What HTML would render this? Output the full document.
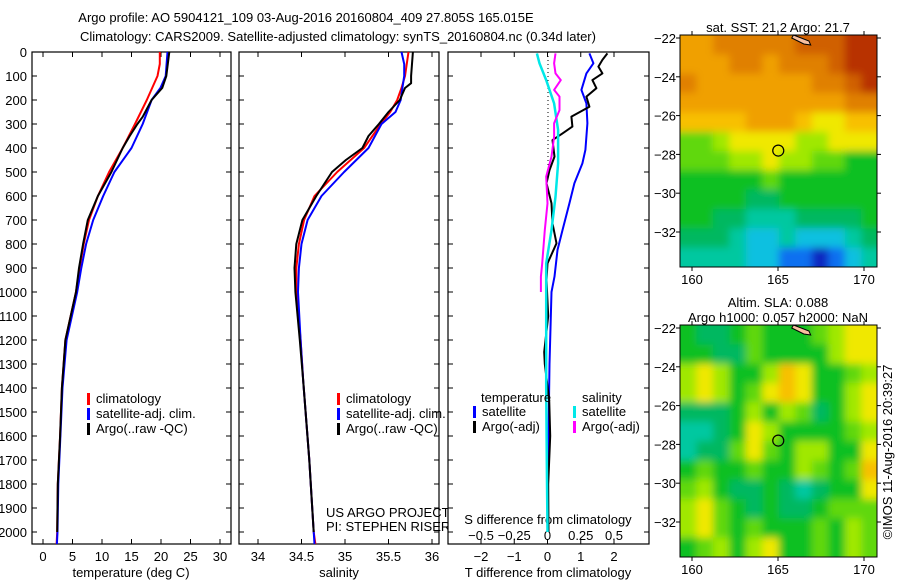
<!DOCTYPE html>
<html><head><meta charset="utf-8"><style>
html,body{margin:0;padding:0;background:#fff;}
svg{display:block;font-family:"Liberation Sans",sans-serif;}
text{font-size:13px;fill:#000;}
</style></head><body>
<svg id="chart" width="900" height="580" viewBox="0 0 900 580" xmlns="http://www.w3.org/2000/svg">
<defs>
<filter id="blur" x="-5%" y="-5%" width="110%" height="110%"><feGaussianBlur stdDeviation="4"/></filter>
<clipPath id="clipTop"><rect x="680" y="35" width="197" height="232"/></clipPath>
<clipPath id="clipBot"><rect x="680" y="325" width="197" height="232"/></clipPath>
</defs>
<text x="306" y="22" text-anchor="middle">Argo profile: AO 5904121_109 03-Aug-2016 20160804_409 27.805S 165.015E</text>
<text x="338" y="41" text-anchor="middle">Climatology: CARS2009. Satellite-adjusted climatology: synTS_20160804.nc (0.34d later)</text>
<g id="g"></g>
</svg>
<script>
// ---- depth profile data ----
const tClimDepth=[0,50,100,200,300,400,500,600,700,800,900,1000,1200,1400,1600,1800,2000,2050];
const tClimVal=[19.8,19.8,19.4,17.6,15.6,13.5,11.2,9.3,7.8,6.9,6.2,5.6,3.8,3.2,2.9,2.5,2.4,2.3];
const tSatDepth=[0,100,150,200,300,400,500,600,700,800,900,1000,1200,1400,1600,1800,2000,2050];
const tSatVal=[21.1,20.8,19.9,18.4,16.9,15.0,12.1,10.2,8.5,7.3,6.5,5.8,4.0,3.3,2.95,2.6,2.45,2.35];
const tArgoDepth=[0,100,150,200,270,300,350,400,500,600,700,800,900,1000,1200,1400,1600,1800,2000];
const tArgoVal=[21.4,20.9,20.2,18.4,16.9,16.0,14.7,13.5,11.6,9.3,7.6,6.8,6.1,5.6,3.8,3.2,2.9,2.5,2.4];
const sClimDepth=[0,100,150,200,250,300,400,500,600,700,800,900,1000,1200,1370,1700,2000,2050];
const sClimVal=[35.73,35.69,35.65,35.6,35.52,35.41,35.22,34.91,34.65,34.53,34.47,34.44,34.44,34.49,34.52,34.59,34.64,34.66];
const sSatDepth=[0,50,100,150,200,250,300,400,500,600,700,800,900,1000,1200,1370,1700,2000,2050];
const sSatVal=[35.65,35.68,35.68,35.66,35.64,35.58,35.42,35.27,34.99,34.73,34.57,34.5,34.47,34.46,34.49,34.52,34.59,34.64,34.65];
const sArgoDepth=[0,100,130,150,200,250,300,350,400,450,500,600,700,800,900,1000,1200,1370,1700,2000];
const sArgoVal=[35.78,35.76,35.76,35.69,35.63,35.5,35.39,35.27,35.2,35.01,34.85,34.67,34.51,34.44,34.42,34.43,34.48,34.52,34.59,34.64];
// ---- difference data ----
const dTSatDepth=[6,47,89,158,214,297,408,464,547,631,742,825,936,1000,1300,1600,2000];
const dTSatVal=[1.26,1.38,1.17,1.02,1.17,1.2,1.14,1.05,0.81,0.66,0.45,0.3,0.21,0.12,0.06,0.03,0.0];
const dTArgoDepth=[6,33,61,89,117,151,186,228,269,311,339,367,436,492,547,631,714,797,881,950,1100,1250,1300,1450,1600,1800,2000];
const dTArgoVal=[1.8,1.65,1.53,1.65,1.35,1.47,1.17,1.26,0.72,0.75,0.45,0.15,0.21,0.06,-0.03,0.12,0.15,0.27,0.0,-0.03,0.02,-0.1,-0.08,0.05,0.08,0.02,0.03];
const dSSatDepth=[6,47,117,214,325,464,603,742,881,1100,1400,1700,2000];
const dSSatVal=[-0.08,-0.06,-0.01,0.05,0.08,0.08,0.06,0.03,-0.01,-0.01,-0.01,-0.005,0.0];
const dSArgoDepth=[6,47,89,117,158,186,242,297,353,436,519,631,742,881,936,1000];
const dSArgoVal=[0.06,0.05,0.06,0.1,0.05,0.09,0.09,0.05,0.05,0.03,-0.01,0.0,-0.02,-0.04,-0.05,-0.05];
// ---- tick labels ----
const depthTicks=[0,100,200,300,400,500,600,700,800,900,1000,1100,1200,1300,1400,1500,1600,1700,1800,1900,2000];
const tTicks=[0,5,10,15,20,25,30];
const sTicks=[34,34.5,35,35.5,36];
const dTTicks=[-2,-1,0,1,2];
const dSTicks=[-0.5,-0.25,0,0.25,0.5];
const dSTickLabels=["\u22120.5","\u22120.25","0","0.25","0.5"];
const lonTicks=[160,165,170];
const latTicks=[-22,-24,-26,-28,-30,-32];
// ---- map fields (colour level 0..13) ----
const sstField=[
[10,10,11,11,11,11,11,12,12,12,13,13],
[10,10,10,11,11,10,11,11,11,12,13,13],
[11,10,10,10,10,10,10,10,11,11,12,13],
[10,10,10,10,10,10,10,10,10,10,11,11],
[9,9,9,9,10,10,10,9,8,8,9,9],
[6,6,7,8,8,8,8,7,7,8,8,8],
[6,6,6,7,7,8,7,7,6,6,5,5],
[5,5,5,5,5,6,5,5,5,5,5,5],
[5,5,5,5,4,4,5,5,5,5,5,5],
[5,5,4,4,3,3,3,4,4,4,4,5],
[4,4,4,3,2,2,3,2,2,2,3,4],
[3,3,3,3,2,2,1,1,0,1,2,3]];
const slaField=[
[5,4,4,5,6,5,5,5,6,7,8,8],
[5,5,4,4,6,5,5,5,5,7,8,8],
[7,8,7,5,5,7,9,8,5,5,6,7],
[7,8,7,5,6,8,9,8,5,5,7,8],
[4,4,4,5,7,5,7,6,4,5,7,8],
[3,3,4,5,8,7,5,5,5,5,6,7],
[3,4,4,6,8,6,5,7,7,5,5,8],
[5,6,5,5,6,5,5,7,6,5,6,9],
[6,7,5,4,4,5,4,3,4,5,5,8],
[7,8,6,5,4,5,4,4,5,6,6,6],
[7,8,6,5,6,5,5,5,6,5,7,6],
[5,6,7,5,7,8,5,5,6,5,7,6]];
const argoLon=165.015, argoLat=-27.805;

const palette=["#0a28c0","#1070f0","#10c0e0","#00c8a0","#00b860","#10c020","#60d810","#a0e800","#f0e800","#f8c000","#f0a000","#e08000","#d06000","#b83000"];
const NS="http://www.w3.org/2000/svg";
const G=document.getElementById('g');
function el(tag,attrs,parent){const e=document.createElementNS(NS,tag);for(const k in attrs)e.setAttribute(k,attrs[k]);(parent||G).appendChild(e);return e;}
function txt(x,y,s,anchor,parent){const t=el('text',{x:x,y:y,'text-anchor':anchor||'start'},parent);t.textContent=s;return t;}

const top0=52, bot=544, dMax=2050;
const yD=d=>top0+d*(bot-top0)/dMax;
function linScale(d0,d1,r0,r1){return v=>r0+(v-d0)*(r1-r0)/(d1-d0);}

function panel(name,x0,x1){
  const g=el('g',{});
  
  
  const r=el('rect',{x:x0,y:top0,width:x1-x0,height:bot-top0,fill:'#fff',stroke:'#000','stroke-width':1.2},g);
  
  
  depthTicks.forEach(d=>{
    el('line',{x1:x0,x2:x0+5,y1:yD(d),y2:yD(d),stroke:'#000'},g);
    el('line',{x1:x1,x2:x1-5,y1:yD(d),y2:yD(d),stroke:'#000'},g);
  });
  return g;
}
function line(g,xs,ds,sx,color,w,name){
  const pts=xs.map((v,i)=>sx(v).toFixed(1)+','+yD(ds[i]).toFixed(1)).join(' ');
  const p=el('polyline',{points:pts,fill:'none',stroke:color,'stroke-width':w,'stroke-linejoin':'round'},g);
  
  
}
function legend(g,x,y,items){
  items.forEach((it,i)=>{
    const yy=y+i*15;
    el('rect',{x:x,y:yy-10,width:3,height:12,fill:it[1]},g);
    const t=txt(x+9,yy,it[0],'start',g);
    
    
  });
}

// Panel 1: temperature
const p1=panel('temperature-panel',32,231);
const sxT=linScale(0,30,43,220);
depthTicks.forEach(d=>{txt(27,yD(d)+5,String(d),'end',p1);});
tTicks.forEach(v=>{el('line',{x1:sxT(v),x2:sxT(v),y1:bot,y2:bot-5,stroke:'#000'},p1);el('line',{x1:sxT(v),x2:sxT(v),y1:top0,y2:top0+5,stroke:'#000'},p1);txt(sxT(v),561,String(v),'middle',p1);});
const t1=txt(131,577,'temperature (deg C)','middle',p1);


line(p1,tClimVal,tClimDepth,sxT,'#ff0000',2,'temp-climatology-line');
line(p1,tSatVal,tSatDepth,sxT,'#0000ff',2,'temp-satellite-line');
line(p1,tArgoVal,tArgoDepth,sxT,'#000',2,'temp-argo-line');
legend(p1,87,403,[['climatology','#ff0000'],['satellite-adj. clim.','#0000ff'],['Argo(..raw -QC)','#000']]);

// Panel 2: salinity
const p2=panel('salinity-panel',239,439);
const sxS=linScale(34,36,258,432);
sTicks.forEach(v=>{el('line',{x1:sxS(v),x2:sxS(v),y1:bot,y2:bot-5,stroke:'#000'},p2);el('line',{x1:sxS(v),x2:sxS(v),y1:top0,y2:top0+5,stroke:'#000'},p2);txt(sxS(v),561,String(v),'middle',p2);});
const t2=txt(339,577,'salinity','middle',p2);


line(p2,sClimVal,sClimDepth,sxS,'#ff0000',2,'sal-climatology-line');
line(p2,sSatVal,sSatDepth,sxS,'#0000ff',2,'sal-satellite-line');
line(p2,sArgoVal,sArgoDepth,sxS,'#000',2,'sal-argo-line');
legend(p2,337,403,[['climatology','#ff0000'],['satellite-adj. clim.','#0000ff'],['Argo(..raw -QC)','#000']]);
txt(326,517,'US ARGO PROJECT','start',p2);
txt(326,531,'PI: STEPHEN RISER','start',p2);

// Panel 3: differences
const p3=panel('difference-panel',448,649);
const sxDT=linScale(-2,2,481,614);
const sxDS=linScale(-0.5,0.5,481,614);
dTTicks.forEach(v=>{el('line',{x1:sxDT(v),x2:sxDT(v),y1:bot,y2:bot-5,stroke:'#000'},p3);el('line',{x1:sxDT(v),x2:sxDT(v),y1:top0,y2:top0+5,stroke:'#000'},p3);txt(sxDT(v),561,v<0?'\u2212'+(-v):String(v),'middle',p3);});
dSTicks.forEach((v,i)=>{txt(sxDS(v),540,dSTickLabels[i],'middle',p3);});
txt(548,524,'S difference from climatology','middle',p3);
const t3=txt(548,577,'T difference from climatology','middle',p3);


el('line',{x1:548,x2:548,y1:top0,y2:yD(500),stroke:'#000','stroke-dasharray':'1,3'},p3);
line(p3,dTSatVal,dTSatDepth,sxDT,'#0000ff',2,'tdiff-satellite-line');
line(p3,dTArgoVal,dTArgoDepth,sxDT,'#000',2,'tdiff-argo-line');
line(p3,dSSatVal,dSSatDepth,sxDS,'#00e8e8',2.5,'sdiff-satellite-line');
line(p3,dSArgoVal,dSArgoDepth,sxDS,'#ff00ff',2,'sdiff-argo-line');
txt(481,402,'temperature','start',p3);
legend(p3,473,416,[['satellite','#0000ff'],['Argo(-adj)','#000']]);
txt(582,402,'salinity','start',p3);
legend(p3,573,416,[['satellite','#00e8e8'],['Argo(-adj)','#ff00ff']]);

// Maps
function drawMap(name,field,yTop,titles,clipId){
  const x0=680,x1=877,y0=yTop,y1=yTop+232;
  const sx=linScale(160,170,692,864), sy=linScale(-22,-32,y0+3,y0+197);
  const lon0=159.3,lon1=170.8,lat0=-21.85,lat1=-33.8;
  const g=el('g',{});
  
  
  const clip=el('g',{'clip-path':'url(#'+clipId+')'},g);
  const cells=el('g',{filter:'url(#blur)'},clip);
  const nr=field.length,nc=field[0].length;
  field.forEach((row,r)=>row.forEach((v,c)=>{
    const la=lat0+(lat1-lat0)*r/nr, lb=lat0+(lat1-lat0)*(r+1)/nr;
    const oa=lon0+(lon1-lon0)*c/nc, ob=lon0+(lon1-lon0)*(c+1)/nc;
    // extend edge cells outward so blur does not fade at borders
    const xa=c===0?sx(oa)-10:sx(oa), xb=c===nc-1?sx(ob)+10:sx(ob);
    const ya=r===0?sy(la)-10:sy(la), yb=r===nr-1?sy(lb)+10:sy(lb);
    const cell=el('rect',{x:xa,y:ya,width:xb-xa+0.6,height:yb-ya+0.6,fill:palette[v]},cells);
    
    
  }));
  el('path',{d:`M${sx(165.9)},${y0} L${sx(166.8)},${y0+6} L${sx(166.9)},${y0+10} L${sx(166.5)},${y0+9} L${sx(165.8)},${y0+3}Z`,fill:'#f8c0a0',stroke:'#000'},g);
  el('rect',{x:x0,y:y0,width:x1-x0,height:y1-y0,fill:'none',stroke:'#000','stroke-width':1},g);
  lonTicks.forEach(v=>{el('line',{x1:sx(v),x2:sx(v),y1:y0,y2:y0-4,stroke:'#000'},g);el('line',{x1:sx(v),x2:sx(v),y1:y1,y2:y1+4,stroke:'#000'},g);txt(sx(v),y1+17,String(v),'middle',g);});
  latTicks.forEach(v=>{el('line',{x1:x0,x2:x0-4,y1:sy(v),y2:sy(v),stroke:'#000'},g);el('line',{x1:x1,x2:x1+4,y1:sy(v),y2:sy(v),stroke:'#000'},g);txt(676,sy(v)+5,'\u2212'+(-v),'end',g);});
  const m=el('circle',{cx:sx(argoLon),cy:sy(argoLat),r:5.5,fill:'none',stroke:'#000','stroke-width':1.2},g);
  
  
  titles.forEach((s,i)=>txt(778,yTop-titles.length*15+12+i*15,s,'middle',g));
}
drawMap('sst-map',sstField,35,['sat. SST: 21.2 Argo: 21.7'],'clipTop');
drawMap('sla-map',slaField,325,['Altim. SLA: 0.088','Argo h1000: 0.057 h2000: NaN'],'clipBot');
const cp=txt(0,0,'\u00a9IMOS 11-Aug-2016 20:39:27','middle');
cp.setAttribute('transform','translate(892,452) rotate(-90)');


</script>
</body></html>
